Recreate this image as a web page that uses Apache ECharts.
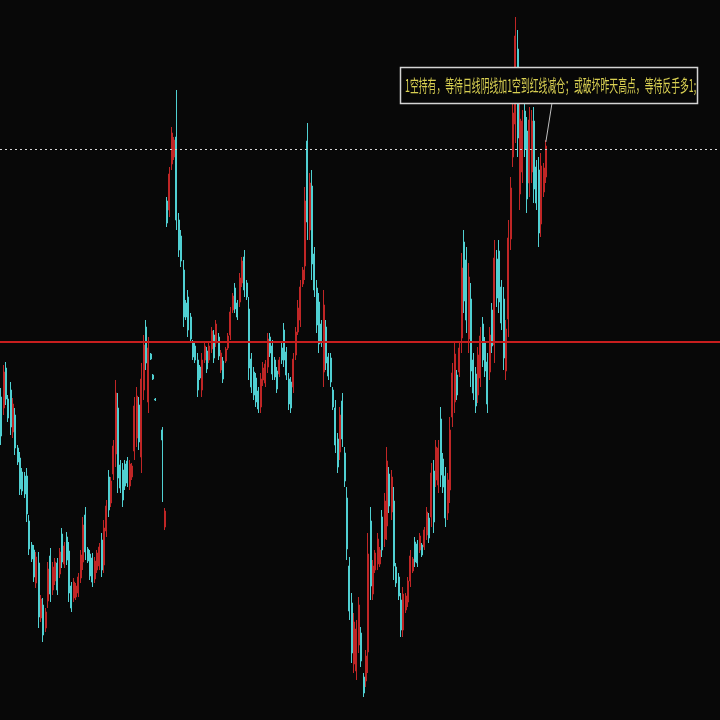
<!DOCTYPE html>
<html><head><meta charset="utf-8">
<script src="https://cdn.jsdelivr.net/npm/echarts/dist/echarts.min.js"></script>
<style>html,body{margin:0;padding:0;background:#080808}#c{width:720px;height:720px}</style>
</head><body><div id="c"></div>
<script>
// [open, close, low, high]
const ohlc = [
[323,284,275,332],[312,348,305,355],[352,321,315,358],[321,302,298,325],[330,293,285,338],
[288,316,282,322],[305,272,265,312],[272,258,255,275],[262,231,225,268],[248,229,225,252],
[244,226,222,248],[244,206,198,252],[199,171,165,205],[175,161,158,178],[170,143,138,175],
[137,163,132,168],[157,103,92,168],[102,121,98,125],[115,85,78,122],[92,108,88,112],
[119,151,112,158],[164,126,118,172],[130,153,125,158],[139,158,135,162],[157,130,125,162],
[146,168,142,172],[186,158,152,192],[156,174,152,178],[183,160,155,188],[169,127,118,178],
[134,112,108,138],[122,138,118,142],[123,134,120,137],[127,143,123,147],[142,165,137,170],
[158,195,150,203],[205,168,160,213],[171,159,157,173],[166,144,140,170],[162,138,133,167],
[141,159,137,163],[150,167,147,170],[154,173,150,177],[180,150,143,187],[155,192,147,200],
[189,214,183,220],[243,210,203,250],[217,239,213,243],[246,274,240,280],[266,327,253,340],
[312,242,227,327],[255,232,227,260],[250,220,213,257],[256,234,230,260],[259,237,233,263],
[234,256,230,260],[243,254,240,257],[269,314,260,323],[282,324,273,333],[315,278,270,323],
[263,341,247,357],[330,375,320,385],[393,357,350,400],[318,372,307,383],[366,361,360,367],
[345,341,340,346],[321,320,319,322],['-','-','-','-'],['-','-','-','-'],[290,280,218,293],
[193,209,190,212],[519,497,493,523],[510,546,503,553],[556,587,550,593],[563,580,560,583],
[583,500,490,630],[500,470,463,507],[484,459,453,490],[450,403,393,460],[417,403,400,420],
[423,390,383,430],[403,381,377,407],[377,363,360,380],[374,360,357,377],[360,330,323,367],
[353,342,340,355],[330,360,323,367],[360,374,357,377],[369,351,347,373],[360,374,357,377],
[371,389,367,393],[385,362,357,390],[377,396,373,400],[383,364,360,387],[350,367,347,370],
[359,341,337,363],[359,371,357,373],[372,384,370,387],[385,408,380,413],[410,424,407,427],
[432,411,407,437],[417,403,400,420],[418,442,413,447],[437,459,433,463],[463,430,423,470],
[437,423,420,440],[411,352,340,423],[361,333,327,367],[348,325,320,353],[342,318,313,347],
[329,311,307,333],[313,341,307,347],[340,352,334,358],[337,356,333,360],[353,381,347,387],[383,367,363,387],
[374,346,340,380],[360,343,340,363],[349,331,327,353],[346,360,343,363],[372,360,356,378],[390,360,353,397],
[368,345,340,373],[341,316,310,347],[338,312,307,343],[333,361,327,367],[365,388,360,393],[388,412,385,420],
[400,433,393,440],[436,450,433,453],[454,519,440,533],[579,498,480,597],[490,537,480,547],
[534,456,440,550],[466,430,423,473],[432,395,387,440],[418,376,367,427],[396,377,373,400],
[348,415,333,430],[393,357,350,400],[363,344,340,367],[362,338,333,367],[330,313,310,333],
[312,275,267,320],[281,253,247,287],[268,305,260,313],[319,281,273,327],[267,239,233,273],
[222,171,160,233],[154,109,100,163],[117,67,57,127],[56,98,47,107],[49,91,40,100],
[75,115,67,123],[87,59,53,93],[43,27,23,47],[39,64,33,70],[68,166,47,187],
[199,134,120,213],[126,154,120,160],[150,167,147,170],[156,181,150,187],[156,170,153,173],
[203,170,163,210],[181,219,173,227],[194,259,180,273],[246,214,207,253],[208,243,200,250],
[219,154,140,233],[153,137,133,157],[143,124,120,147],[120,90,83,127],[90,126,83,133],
[110,124,107,127],[118,139,113,143],[139,164,133,170],[149,161,147,163],[178,158,153,183],
[176,157,153,180],[170,184,167,187],[175,165,163,177],[173,190,170,193],[185,208,180,213],
[202,182,177,207],[203,247,193,257],[249,198,187,260],[240,273,233,280],[235,272,227,280],
[301,245,233,313],[261,233,227,267],[244,202,193,253],[207,240,200,247],[230,290,217,303],
[303,347,293,357],[318,366,307,377],[345,325,320,350],[348,372,343,377],[382,452,367,467],
[478,419,407,490],[460,400,387,473],[381,443,367,457],[421,349,333,437],[360,327,320,367],
[346,314,307,353],[325,365,317,373],[342,384,333,393],[396,360,353,403],
[377,349,343,383],[358,316,307,367],[348,385,340,393],[410,374,367,417],
[375,462,357,480],[461,422,413,470],[469,418,407,480],[433,397,390,440],
[421,362,350,433],[349,391,340,400],[401,482,383,500],[481,532,470,543],[563,607,553,617],
[596,684,577,703],[671,582,563,690],[526,601,510,617],[548,599,537,610],[609,571,563,617],
[589,521,507,603],[537,600,523,613],[548,599,537,610],[599,531,517,613],[553,517,510,560],
[550,487,473,563],[496,554,483,567],[528,552,523,557],[543,574,537,580]
];
const slotCount = 308;
const categories = Array.from({length: slotCount}, (_, i) => String(i + 1));
const redLevel = 378;
const dottedLevel = 571;
const noteText = '1空持有，等待日线阴线加1空到红线减仓；或破坏昨天高点，等待反手多1;';

const UP = '#c02626', DOWN = '#50d0d2';
const chart = echarts.init(document.getElementById('c'));
chart.setOption({
  backgroundColor: '#080808',
  animation: false,
  grid: {left: 0, right: 0, top: 0, bottom: 0},
  xAxis: {type: 'category', data: categories, show: false, boundaryGap: true},
  yAxis: {type: 'value', min: 0, max: 720, show: false, splitLine: {show: false}},
  series: [{
    type: 'candlestick',
    data: ohlc,
    barWidth: 1.5,
    itemStyle: {color: UP, color0: DOWN, borderColor: UP, borderColor0: DOWN, borderWidth: 1},
    markLine: {
      silent: true, symbol: 'none', label: {show: false},
      data: [
        {yAxis: redLevel, lineStyle: {color: '#c81e1e', width: 2, type: 'solid'}},
        {yAxis: dottedLevel, lineStyle: {color: '#d8d8d8', width: 1, type: [2, 3]}}
      ]
    }
  }]
});
const last = ohlc.length - 1;
const tip = chart.convertToPixel({seriesIndex: 0}, [last, ohlc[last][3]]);
chart.setOption({
  graphic: [
    {type: 'line', shape: {x1: 552, y1: 103, x2: tip[0], y2: tip[1] + 2}, style: {stroke: '#bfbfbf', lineWidth: 1}, z: 10},
    {type: 'rect', shape: {x: 400.5, y: 67.5, width: 297, height: 36}, style: {fill: '#070707', stroke: '#d4d4d4', lineWidth: 1.5}, z: 11},
    {type: 'text', x: 405, y: 86, scaleX: 0.52, z: 12,
     style: {text: noteText, fill: '#d8cf52', font: '17px "Noto Sans CJK SC"', textVerticalAlign: 'middle', verticalAlign: 'middle'}}
  ]
});
</script>
</body></html>
